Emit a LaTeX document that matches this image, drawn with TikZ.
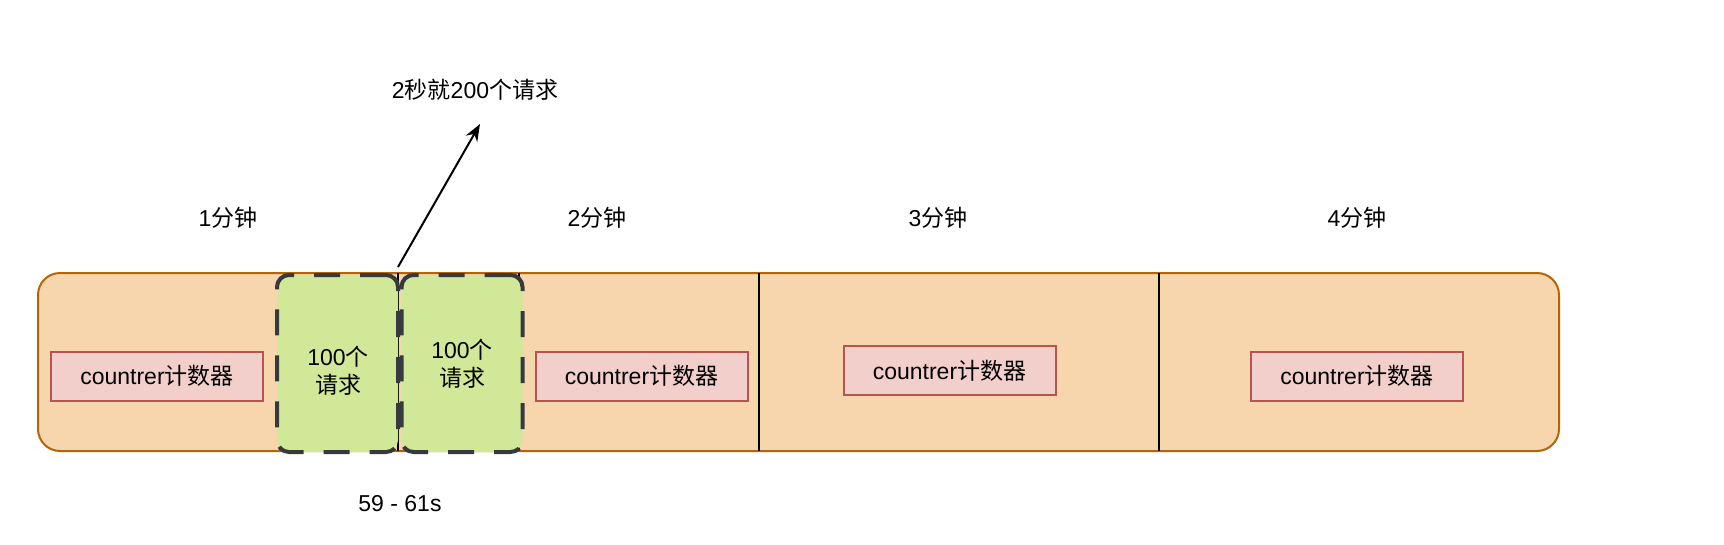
\documentclass[tikz,border=0pt]{standalone}
\usepackage{fontspec}
\setmainfont{Liberation Sans}
\newfontfamily\cjk{Noto Sans CJK SC}
\usetikzlibrary{arrows.meta}
\definecolor{orfill}{HTML}{F7D6AE}
\definecolor{orline}{HTML}{B46504}
\definecolor{redfill}{HTML}{F3CFCC}
\definecolor{redline}{HTML}{B85450}
\definecolor{grfill}{HTML}{D2E899}
\definecolor{grline}{HTML}{36393D}
\begin{document}
\begin{tikzpicture}[x=1pt,y=-1pt,
  every node/.style={font=\fontsize{23}{28}\selectfont, inner sep=0pt},
  band/.style={draw=orline, fill=orfill, line width=2pt, rounded corners=22pt},
  counterbox/.style={draw=redline, fill=redfill, line width=2pt, minimum width=212pt, minimum height=49pt},
  greenbox/.style={draw=grline, fill=grfill, line width=4pt, dash pattern=on 26pt off 20pt, rounded corners=12pt, minimum width=121pt, minimum height=177pt},
  divider/.style={draw=black, line width=2pt},
  lbl/.style={align=center}
]
\useasboundingbox (0,0) rectangle (1724,544);

% background band
\node[band, minimum width=1521pt, minimum height=178pt] (band) at (798.5,362) {};

% dividers
\coordinate (d1t) at (398,273); \coordinate (d1b) at (398,451);
\coordinate (d2t) at (519,273); \coordinate (d2b) at (519,451);
\coordinate (d3t) at (759,273); \coordinate (d3b) at (759,451);
\coordinate (d4t) at (1159,273); \coordinate (d4b) at (1159,451);
\draw[divider] (d1t) -- (d1b);
\draw[divider] (d2t) -- (d2b);
\draw[divider] (d3t) -- (d3b);
\draw[divider] (d4t) -- (d4b);

% green boxes
\node[greenbox] (g1) at (337.5,363.5) {};
\node[greenbox] (g2) at (462,363.5) {};
\node[lbl] (g1t) at (338,371) {100{\cjk 个}\\{\cjk 请求}};
\node[lbl] (g2t) at (462,364) {100{\cjk 个}\\{\cjk 请求}};

% counters
\node[counterbox] (c1) at (157,376) {countrer{\cjk 计数器}};
\node[counterbox] (c2) at (641.5,376) {countrer{\cjk 计数器}};
\node[counterbox] (c3) at (949.5,370.5) {countrer{\cjk 计数器}};
\node[counterbox] (c4) at (1357,376) {countrer{\cjk 计数器}};

% minute labels
\node (m1) at (228,218) {1{\cjk 分钟}};
\node (m2) at (597,218) {2{\cjk 分钟}};
\node (m3) at (938,218) {3{\cjk 分钟}};
\node (m4) at (1357,218) {4{\cjk 分钟}};

% top label and arrow
\node (top) at (475,90) {2{\cjk 秒就}200{\cjk 个请求}};
\coordinate (as) at (398,267);
\coordinate (ae) at (480,124);
\draw[line width=2pt, -{Stealth[length=17pt,width=13pt]}] (as) -- (ae);

% bottom label
\node (rng) at (400,504) {59 - 61s};
\end{tikzpicture}
\end{document}
